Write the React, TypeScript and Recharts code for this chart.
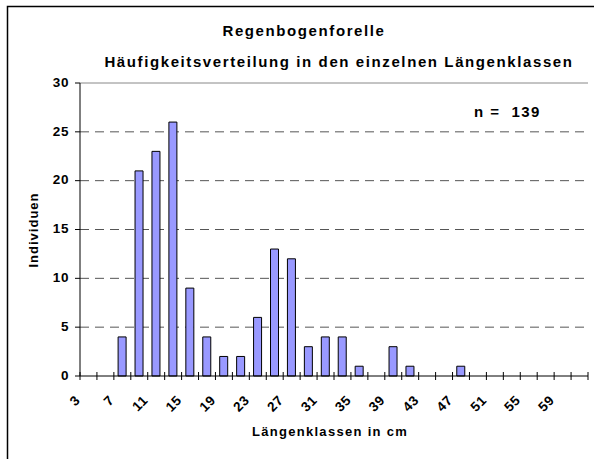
import React from "react";
import { BarChart, Bar, XAxis, YAxis, CartesianGrid, ReferenceLine } from "recharts";

const lengthClasses = [3, 5, 7, 9, 11, 13, 15, 17, 19, 21, 23, 25, 27, 29, 31, 33, 35, 37, 39, 41, 43, 45, 47, 49, 51, 53, 55, 57, 59, 61];
const individuals = [0, 0, 4, 21, 23, 26, 9, 4, 2, 2, 6, 13, 12, 3, 4, 4, 1, 0, 3, 1, 0, 0, 1, 0, 0, 0, 0, 0, 0, 0];
const yTicks = [0, 5, 10, 15, 20, 25, 30];
const gridValues = [5, 10, 15, 20, 25];

const titleLine1 = "Regenbogenforelle";
const titleLine2 = "Häufigkeitsverteilung in den einzelnen Längenklassen";
const nLabel = "n =  139";
const yTitle = "Individuen";
const xTitle = "Längenklassen in cm";

const data = lengthClasses.map((len, i) => ({ len: String(len), count: individuals[i] }));

const FONT = "'Liberation Sans', Arial, sans-serif";
const W = 594;
const H = 459;

const XTick = (props: any) => {
  const { x, y, payload, index } = props;
  const half = payload.offset || 0;
  const left = x - half;
  const showLabel = index % 2 === 0;
  const isLast = index === lengthClasses.length - 1;
  return (
    <g>
      <line x1={left} x2={left} y1={y - 4} y2={y + 4} stroke="#000" strokeWidth={1} />
      {isLast && <line x1={x + half} x2={x + half} y1={y - 4} y2={y + 4} stroke="#000" strokeWidth={1} />}
      {showLabel && (
        <text
          x={left + 1}
          y={y + 25}
          transform={`rotate(-45 ${left + 1} ${y + 25})`}
          textAnchor="end"
          fontFamily={FONT}
          fontWeight="bold"
          fontSize={13.5}
          letterSpacing={0.6}
          fill="#000"
        >
          {payload.value}
        </text>
      )}
    </g>
  );
};

const YTick = (props: any) => {
  const { x, y, payload } = props;
  return (
    <text x={x} y={y + 3.8} textAnchor="end" fontFamily={FONT} fontWeight="bold" fontSize={13.5} letterSpacing={0.6} fill="#000">
      {payload.value}
    </text>
  );
};

export default function App() {
  return (
    <div style={{ position: "absolute", left: 0, top: 0, width: W, height: H, background: "#fff", overflow: "hidden" }}>
      <BarChart
        width={W}
        height={H}
        data={data}
        margin={{ top: 83, right: 6, left: 0, bottom: 0 }}
        barCategoryGap="25%"
      >
        <CartesianGrid horizontal vertical={false} horizontalValues={gridValues} stroke="#555" strokeDasharray="9 6" />
        <ReferenceLine y={30} stroke="#888" strokeWidth={1} ifOverflow="extendDomain" />
        <YAxis
          yAxisId="right"
          orientation="right"
          width={0}
          domain={[0, 30]}
          tick={false}
          tickLine={false}
          axisLine={{ stroke: "#888", strokeWidth: 1 }}
        />
        <XAxis
          dataKey="len"
          type="category"
          height={83}
          interval={0}
          tickSize={0}
          tickMargin={0}
          tickLine={false}
          axisLine={{ stroke: "#000", strokeWidth: 1 }}
          tick={<XTick />}
        />
        <YAxis
          width={80}
          domain={[0, 30]}
          ticks={yTicks}
          interval={0}
          tickSize={5}
          tickMargin={6}
          tickLine={{ stroke: "#000" }}
          axisLine={{ stroke: "#000", strokeWidth: 1 }}
          tick={<YTick />}
        />
        <Bar dataKey="count" fill="#9999ff" stroke="#000" strokeWidth={1} isAnimationActive={false} />
      </BarChart>
      <svg width={W} height={H} style={{ position: "absolute", left: 0, top: 0, pointerEvents: "none" }}>
        <rect x={7.5} y={6.5} width={620} height={500} fill="none" stroke="#000" strokeWidth={1.5} />
        <text x={304} y={36} textAnchor="middle" fontFamily={FONT} fontWeight="bold" fontSize={15} letterSpacing={1.6} fill="#000">
          {titleLine1}
        </text>
        <text x={339} y={66.5} textAnchor="middle" fontFamily={FONT} fontWeight="bold" fontSize={15} letterSpacing={1.6} fill="#000">
          {titleLine2}
        </text>
        <text x={474} y={116.5} fontFamily={FONT} fontWeight="bold" fontSize={15} letterSpacing={1.4} fill="#000" style={{ whiteSpace: "pre" }}>
          {nLabel}
        </text>
        <text
          x={38}
          y={230}
          transform="rotate(-90 38 230)"
          textAnchor="middle"
          fontFamily={FONT}
          fontWeight="bold"
          fontSize={13}
          letterSpacing={1}
          fill="#000"
        >
          {yTitle}
        </text>
        <text x={330} y={436} textAnchor="middle" fontFamily={FONT} fontWeight="bold" fontSize={13} letterSpacing={1.3} fill="#000">
          {xTitle}
        </text>
      </svg>
    </div>
  );
}
